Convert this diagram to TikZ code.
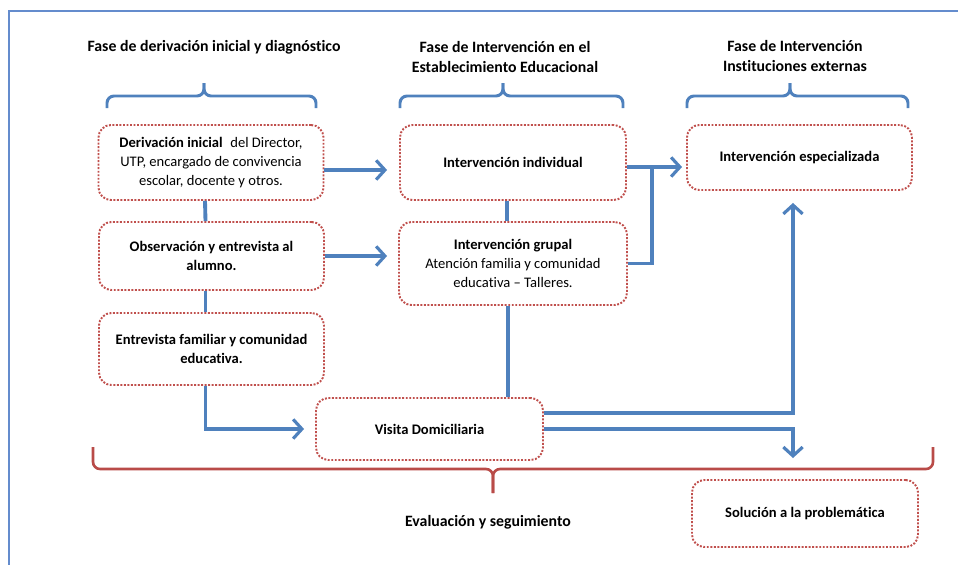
\documentclass[tikz,border=0pt]{standalone}
\usepackage{fontspec}
\setmainfont{Carlito}[Ligatures = NoCommon]
\usetikzlibrary{arrows.meta, positioning}
\definecolor{azulflecha}{RGB}{79,129,189}
\definecolor{azulmarco}{RGB}{100,140,205}
\definecolor{rojocaja}{RGB}{192,80,77}
\definecolor{rojollave}{RGB}{185,75,72}

\begin{document}
\begin{tikzpicture}[x = 0.02cm, y = -0.02cm,
    caja/.style = {draw = rojocaja, line width = 1.1pt, dash pattern = {on 1.1pt off 0.9pt}, rounded corners = 7pt, minimum width = 4.5cm, align = center, inner sep = 0pt, font = \fontsize{8.3}{11}\selectfont},
    cajanegrita/.style = {caja, font = \fontsize{8.3}{11}\selectfont\bfseries},
    flecha/.style = {draw = azulflecha, line width = 2.2pt, arrows = {-Straight Barb[length = 5pt, width = 11pt, line width = 1.8pt]}},
    enlace/.style = {draw = azulflecha, line width = 2.2pt},
    llave/.style = {draw = azulflecha, line width = 1.7pt, rounded corners = 4pt},
    titulo/.style = {font = \fontsize{9}{11.2}\selectfont\bfseries, align = center}]
        % Marco
        \useasboundingbox (0,0) rectangle (958,565);
        \draw[azulmarco, line width = 1.2pt] (9,565) -- (9,11) -- (958,11);
        % Titulos de las fases
        \node[titulo] (FaseDer) at (214,47) {Fase de derivación inicial y diagnóstico};
        \node[titulo] (FaseEst) at (505,57) {Fase de Intervención en el\\Establecimiento Educacional};
        \node[titulo] (FaseExt) at (795,56) {Fase de Intervención\\Instituciones externas};
        % Llaves
        \draw[llave] (107,108) |- (204,96) -- (204,83);
        \draw[llave] (316,108) |- (204,96) -- (204,83);
        \draw[llave] (400,108) |- (503,96) -- (503,83);
        \draw[llave] (623,108) |- (503,96) -- (503,83);
        \draw[llave] (687,108) |- (790,96) -- (790,83);
        \draw[llave] (908,108) |- (790,96) -- (790,83);
        \draw[llave, draw = rojollave, line width = 1.5pt] (93,447) |- (493,469) -- (493,493);
        \draw[llave, draw = rojollave, line width = 1.5pt] (933,447) |- (493,469) -- (493,493);
        % Cajas
        \node[caja, minimum height = 1.5cm] (DerIni) at (211,162.5) {{\bfseries Derivación inicial}\hspace{2.5pt} del Director,\\UTP, encargado de convivencia\\escolar, docente y otros.};
        \node[cajanegrita, minimum height = 1.36cm] (Obs) at (211.5,256) {Observación y entrevista al\\alumno.};
        \node[cajanegrita, minimum height = 1.44cm] (EntFam) at (211.5,349) {Entrevista familiar y comunidad\\educativa.};
        \node[cajanegrita, minimum width = 4.52cm, minimum height = 1.5cm] (IntInd) at (513,162.5) {Intervención individual};
        \node[caja, minimum width = 4.56cm, minimum height = 1.66cm] (IntGru) at (513,263.5) {{\bfseries Intervención grupal}\\Atención familia y comunidad\\educativa -- Talleres.};
        \node[cajanegrita, minimum height = 1.3cm] (IntEsp) at (799.5,157.5) {Intervención especializada};
        \node[cajanegrita, minimum width = 4.54cm, minimum height = 1.24cm] (Visita) at (429.5,429) {Visita Domiciliaria};
        \node[cajanegrita, minimum width = 4.52cm, minimum height = 1.34cm] (Sol) at (805,513.5) {Solución a la problemática};
        \node[titulo] (Eval) at (488,522) {Evaluación y seguimiento};
        % Puntos auxiliares
        \coordinate (Union) at (652,167);
        \coordinate (BajaGru) at ([xshift = -0.1cm]IntGru.south);
        \coordinate (FinSol) at (793,458);
        % Conexiones
        \draw[enlace] ([xshift = -0.12cm]DerIni.south) -- ([xshift = -0.12cm]Obs.north);
        \draw[enlace] ([xshift = -0.12cm]Obs.south) -- ([xshift = -0.12cm]EntFam.north);
        \draw[enlace] ([xshift = -0.12cm]IntInd.south) -- ([xshift = -0.12cm]IntGru.north);
        \draw[enlace] (BajaGru) -- (BajaGru |- Visita.north);
        \draw[enlace] (IntGru.east) -| (Union);
        \draw[flecha, shorten > = 0.24cm] ([yshift = -0.15cm]DerIni.east) -- ([yshift = -0.15cm]IntInd.west);
        \draw[flecha, shorten > = 0.22cm] (Obs.east) -- (Obs.east -| IntGru.west);
        \draw[flecha, shorten > = 0.08cm] (IntInd.east |- Union) -- (IntEsp.west |- Union);
        \draw[flecha, shorten > = 0.22cm] ([xshift = -0.12cm]EntFam.south) |- (Visita.west);
        \draw[flecha, shorten > = 0.24cm] ([yshift = 0.32cm]Visita.east) -| ([xshift = -0.13cm]IntEsp.south);
        \draw[flecha] (Visita.east) -| (FinSol);
    \end{tikzpicture}
\end{document}
